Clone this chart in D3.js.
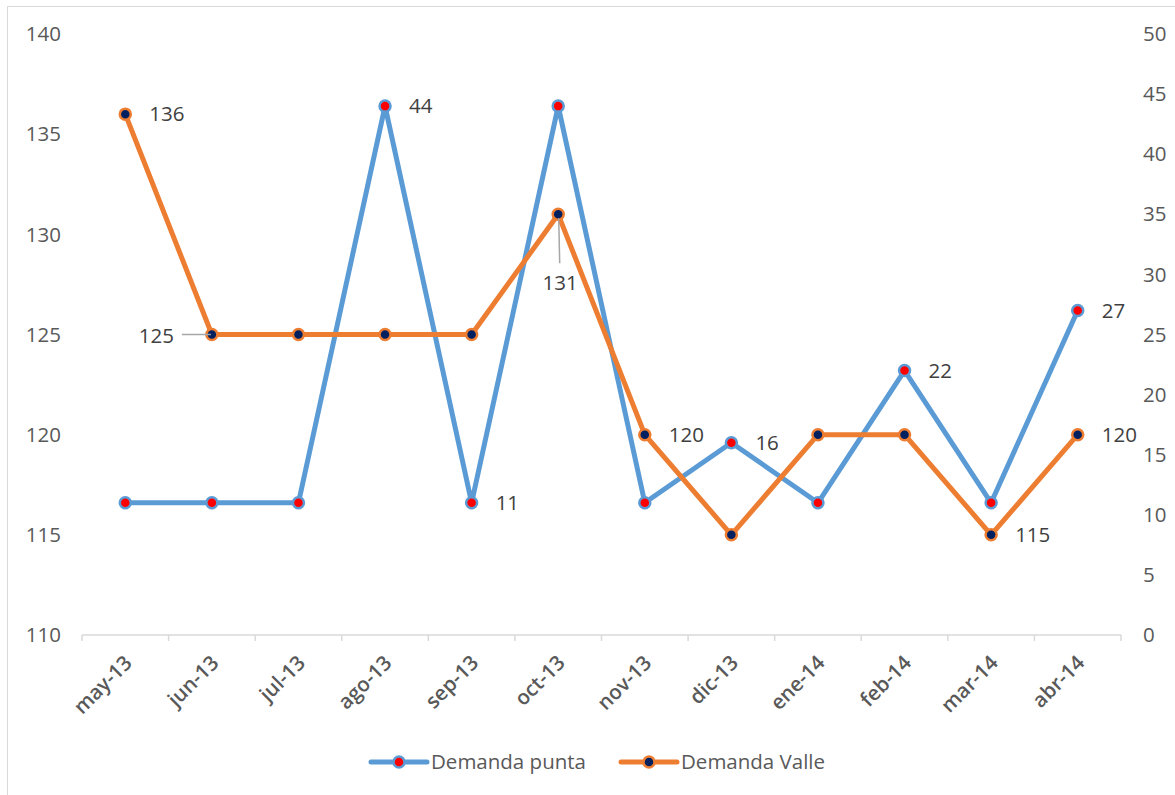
<!DOCTYPE html>
<html>
<head>
<meta charset="utf-8">
<script src="https://cdn.jsdelivr.net/npm/d3@7"></script>
<style>
  html, body { margin: 0; padding: 0; background: #fff; }
  svg { display: block; font-family: "Open Sans", "Liberation Sans", sans-serif; }
</style>
</head>
<body>
<svg id="chart" width="1175" height="795"></svg>
<script>
// Monthly demand: peak (right axis) and valley (left axis)
const months = ["may-13","jun-13","jul-13","ago-13","sep-13","oct-13","nov-13","dic-13","ene-14","feb-14","mar-14","abr-14"];
const demandaPunta = [11, 11, 11, 44, 11, 44, 11, 16, 11, 22, 11, 27];
const demandaValle = [136, 125, 125, 125, 125, 131, 120, 115, 120, 120, 115, 120];
const leftTicks = [110, 115, 120, 125, 130, 135, 140];
const rightTicks = [0, 5, 10, 15, 20, 25, 30, 35, 40, 45, 50];

// Which points carry a value label, and where it sits
const puntaLabels = [
  { i: 3, pos: "right" }, { i: 4, pos: "right" }, { i: 7, pos: "right" },
  { i: 9, pos: "right" }, { i: 11, pos: "right" }
];
const valleLabels = [
  { i: 0, pos: "right" }, { i: 1, pos: "leftLeader" }, { i: 5, pos: "belowLeader" },
  { i: 6, pos: "right" }, { i: 10, pos: "right" }, { i: 11, pos: "right" }
];

const svg = d3.select("#chart");
const plot = { left: 82, right: 1121, top: 34, bottom: 635 };

const blue = "#5b9bd5", orange = "#ed7d31";
const textGrey = "#595959", labelGrey = "#404040";
const fs = 20.5;

// chart frame
svg.append("rect")
  .attr("x", 7.5).attr("y", 6.5).attr("width", 1200).attr("height", 900)
  .attr("fill", "none").attr("stroke", "#d9d9d9").attr("stroke-width", 1);

const x = d3.scaleBand().domain(months).range([plot.left, plot.right]);
const yL = d3.scaleLinear().domain([110, 140]).range([plot.bottom, plot.top]);
const yR = d3.scaleLinear().domain([0, 50]).range([plot.bottom, plot.top]);
const cx = m => x(m) + x.bandwidth() / 2;

// left axis labels
svg.append("g").selectAll("text").data(leftTicks).join("text")
  .attr("x", 61).attr("y", d => yL(d)).attr("dy", "0.35em")
  .attr("text-anchor", "end").attr("fill", textGrey).attr("font-size", fs)
  .text(d => d);

// right axis labels
svg.append("g").selectAll("text").data(rightTicks).join("text")
  .attr("x", 1143).attr("y", d => yR(d)).attr("dy", "0.35em")
  .attr("text-anchor", "start").attr("fill", textGrey).attr("font-size", fs)
  .text(d => d);

// category axis
const xAxis = d3.axisBottom(x).tickSize(0).tickFormat("");
const gx = svg.append("g").attr("transform", `translate(0,${plot.bottom})`).call(xAxis);
gx.select(".domain").attr("stroke", "#d9d9d9").attr("stroke-width", 1.5)
  .attr("d", `M${plot.left},0H${plot.right}`);
const boundaries = months.map(m => x(m)).concat([plot.right]);
gx.selectAll(".bound").data(boundaries).join("line")
  .attr("class", "bound")
  .attr("x1", d => d).attr("x2", d => d).attr("y1", 0).attr("y2", 6)
  .attr("stroke", "#d9d9d9").attr("stroke-width", 1.5);

svg.append("g").selectAll("text").data(months).join("text")
  .attr("transform", d => `translate(${cx(d) + 3},${plot.bottom + 24}) rotate(-45)`)
  .attr("text-anchor", "end").attr("dy", "0.35em")
  .attr("fill", textGrey).attr("font-size", 20.5).attr("font-weight", 600)
  .text(d => d);

// series
function drawSeries(values, y, color, fill) {
  const line = d3.line().x((d, i) => cx(months[i])).y(d => y(d));
  svg.append("path").datum(values)
    .attr("d", line).attr("fill", "none")
    .attr("stroke", color).attr("stroke-width", 5)
    .attr("stroke-linejoin", "round").attr("stroke-linecap", "round");
  svg.append("g").selectAll("circle").data(values).join("circle")
    .attr("cx", (d, i) => cx(months[i])).attr("cy", d => y(d))
    .attr("r", 5.5).attr("fill", fill)
    .attr("stroke", color).attr("stroke-width", 2.5);
}
drawSeries(demandaPunta, yR, blue, "#ff0000");
drawSeries(demandaValle, yL, orange, "#002060");

// value labels
function drawLabels(specs, values, y) {
  const g = svg.append("g");
  specs.forEach(s => {
    const px = cx(months[s.i]), py = y(values[s.i]);
    if (s.pos === "right") {
      g.append("text").attr("x", px + 24).attr("y", py).attr("dy", "0.35em")
        .attr("fill", labelGrey).attr("font-size", fs).text(values[s.i]);
    } else if (s.pos === "leftLeader") {
      g.append("line").attr("x1", px - 30).attr("x2", px - 1).attr("y1", py).attr("y2", py)
        .attr("stroke", "#a6a6a6").attr("stroke-width", 1.5);
      g.append("text").attr("x", px - 38).attr("y", py + 1).attr("dy", "0.35em")
        .attr("text-anchor", "end").attr("fill", labelGrey).attr("font-size", fs).text(values[s.i]);
    } else if (s.pos === "belowLeader") {
      g.append("line").attr("x1", px + 0.5).attr("x2", px + 1.5).attr("y1", py + 4).attr("y2", py + 49)
        .attr("stroke", "#a6a6a6").attr("stroke-width", 1.5);
      g.append("text").attr("x", px + 2).attr("y", py + 69).attr("dy", "0.35em")
        .attr("text-anchor", "middle").attr("fill", labelGrey).attr("font-size", fs).text(values[s.i]);
    }
  });
}
drawLabels(puntaLabels, demandaPunta, yR);
drawLabels(valleLabels, demandaValle, yL);

// legend
const legend = [
  { name: "Demanda punta", color: blue, fill: "#ff0000", x: 371 },
  { name: "Demanda Valle", color: orange, fill: "#002060", x: 621 }
];
const lg = svg.append("g");
legend.forEach(d => {
  lg.append("line").attr("x1", d.x).attr("x2", d.x + 56).attr("y1", 762).attr("y2", 762)
    .attr("stroke", d.color).attr("stroke-width", 5).attr("stroke-linecap", "round");
  lg.append("circle").attr("cx", d.x + 28).attr("cy", 762).attr("r", 5.5)
    .attr("fill", d.fill).attr("stroke", d.color).attr("stroke-width", 2.5);
  lg.append("text").attr("x", d.x + 60).attr("y", 762).attr("dy", "0.35em")
    .attr("fill", textGrey).attr("font-size", fs).text(d.name);
});
</script>
</body>
</html>
